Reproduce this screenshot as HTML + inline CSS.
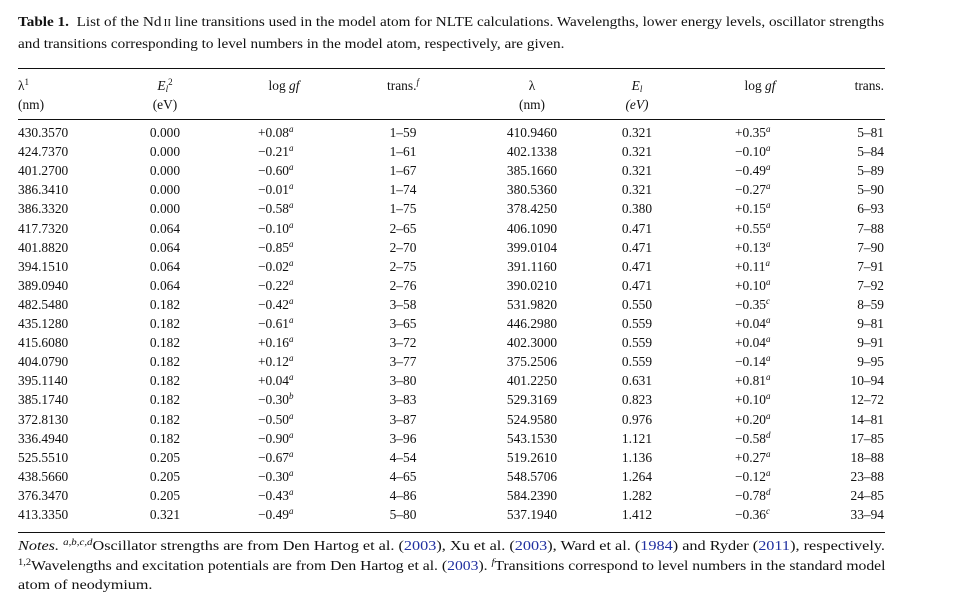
<!DOCTYPE html>
<html><head><meta charset="utf-8">
<style>
body{margin:0;background:#fff;}
#page{position:relative;width:976px;height:602px;overflow:hidden;font-family:"Liberation Serif",serif;color:#111;font-size:13.4px;}
.t{position:absolute;white-space:nowrap;line-height:16px;}
.h{line-height:19px;}
.rule{position:absolute;left:18px;width:867px;height:1.3px;background:#111;}
sup{font-size:9px;line-height:0;vertical-align:5px;font-style:italic;}
.sb{font-size:9px;line-height:0;vertical-align:-2px;}
.c{transform:translateX(-50%);}
.r{transform:translateX(-100%);}
.lk{color:#2030a0;}
.n{position:absolute;left:18px;white-space:nowrap;line-height:16px;font-size:13.4px;transform-origin:0 0;}
</style></head><body>
<div id="page">
<div class="t" style="left:18px;top:12px;font-size:13.6px;line-height:20px;transform-origin:0 0;transform:scaleX(1.118);"><b>Table 1.</b>&nbsp; List of the Nd<span style="font-size:10px">&thinsp;II</span> line transitions used in the model atom for NLTE calculations. Wavelengths, lower energy levels, oscillator strengths<br>and transitions corresponding to level numbers in the model atom, respectively, are given.</div>
<div class="rule" style="top:68px"></div>
<div class="rule" style="top:119px"></div>
<div class="rule" style="top:532px"></div>

<div class="t h" style="left:18px;top:76px">λ<sup style="font-style:normal">1</sup><br>(nm)</div>
<div class="t c h" style="left:165px;top:76px;text-align:center"><i>E<span class="sb">l</span></i><sup style="font-style:normal">2</sup><br>(eV)</div>
<div class="t c h" style="left:284px;top:76px">log <i>gf</i></div>
<div class="t c h" style="left:403px;top:76px">trans.<sup>f</sup></div>
<div class="t c h" style="left:532px;top:76px;text-align:center">λ<br>(nm)</div>
<div class="t c h" style="left:637px;top:76px;text-align:center"><i>E<span class="sb">l</span></i><br><i>(eV)</i></div>
<div class="t c h" style="left:760px;top:76px">log <i>gf</i></div>
<div class="t r h" style="left:884px;top:76px">trans.</div>

<div id="rows"></div>

<div class="n" style="top:538px;transform:scaleX(1.212);"><i>Notes.</i> <sup>a,b,c,d</sup>Oscillator strengths are from Den Hartog et al. (<span class="lk">2003</span>), Xu et al. (<span class="lk">2003</span>), Ward et al. (<span class="lk">1984</span>) and Ryder (<span class="lk">2011</span>), respectively.</div>
<div class="n" style="top:557.5px;transform:scaleX(1.17);"><sup style="font-style:normal">1,2</sup>Wavelengths and excitation potentials are from Den Hartog et al. (<span class="lk">2003</span>). <sup>f</sup>Transitions correspond to level numbers in the standard model</div>
<div class="n" style="top:577px;transform:scaleX(1.2);">atom of neodymium.</div>
</div>
<script>
const lam1=["430.3570","424.7370","401.2700","386.3410","386.3320","417.7320","401.8820","394.1510","389.0940","482.5480","435.1280","415.6080","404.0790","395.1140","385.1740","372.8130","336.4940","525.5510","438.5660","376.3470","413.3350"];
const el1=["0.000","0.000","0.000","0.000","0.000","0.064","0.064","0.064","0.064","0.182","0.182","0.182","0.182","0.182","0.182","0.182","0.182","0.205","0.205","0.205","0.321"];
const gf1=["+0.08a","−0.21a","−0.60a","−0.01a","−0.58a","−0.10a","−0.85a","−0.02a","−0.22a","−0.42a","−0.61a","+0.16a","+0.12a","+0.04a","−0.30b","−0.50a","−0.90a","−0.67a","−0.30a","−0.43a","−0.49a"];
const tr1=["1–59","1–61","1–67","1–74","1–75","2–65","2–70","2–75","2–76","3–58","3–65","3–72","3–77","3–80","3–83","3–87","3–96","4–54","4–65","4–86","5–80"];
const lam2=["410.9460","402.1338","385.1660","380.5360","378.4250","406.1090","399.0104","391.1160","390.0210","531.9820","446.2980","402.3000","375.2506","401.2250","529.3169","524.9580","543.1530","519.2610","548.5706","584.2390","537.1940"];
const el2=["0.321","0.321","0.321","0.321","0.380","0.471","0.471","0.471","0.471","0.550","0.559","0.559","0.559","0.631","0.823","0.976","1.121","1.136","1.264","1.282","1.412"];
const gf2=["+0.35a","−0.10a","−0.49a","−0.27a","+0.15a","+0.55a","+0.13a","+0.11a","+0.10a","−0.35c","+0.04a","+0.04a","−0.14a","+0.81a","+0.10a","+0.20a","−0.58d","+0.27a","−0.12a","−0.78d","−0.36c"];
const tr2=["5–81","5–84","5–89","5–90","6–93","7–88","7–90","7–91","7–92","8–59","9–81","9–91","9–95","10–94","12–72","14–81","17–85","18–88","23–88","24–85","33–94"];
const rows=document.getElementById('rows');
function cell(txt,x,y,cls,name,gf){
  const d=document.createElement('div');
  d.className='t '+cls;
  d.style.left=x+'px';d.style.top=y+'px';
  if(gf){d.innerHTML=txt.slice(0,-1)+'<sup>'+txt.slice(-1)+'</sup>';}else{d.textContent=txt;}
  
  
  rows.appendChild(d);
}
for(let i=0;i<lam1.length;i++){
  const y=125+i*19.1;
  cell(lam1[i],18,y,'', 'wavelength-cell');
  cell(el1[i],165,y,'c','energy-cell');
  cell(gf1[i],258,y,'','loggf-cell',true);
  cell(tr1[i],403,y,'c','transition-cell');
  cell(lam2[i],532,y,'c','wavelength-cell');
  cell(el2[i],637,y,'c','energy-cell');
  cell(gf2[i],735,y,'','loggf-cell',true);
  cell(tr2[i],884,y,'r','transition-cell');
}
</script>
</body></html>
